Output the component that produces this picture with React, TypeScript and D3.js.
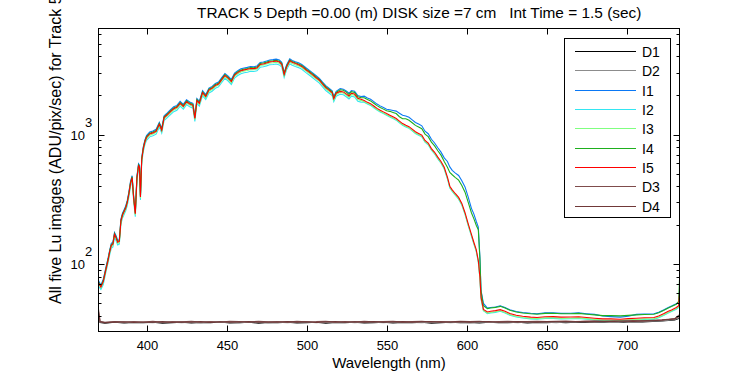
import React, { useEffect, useRef } from "react";
import * as d3 from "d3";

// wavelength grid (nm) for the five illuminated images
const wavelength = [
  370, 371.5, 373, 374.5, 376, 377, 378, 379, 380, 381,
  382, 383, 384, 385, 386, 387, 388, 389, 390, 391,
  392, 393, 394, 395, 395.6, 396.2, 397, 398, 399, 400,
  402, 404, 406, 408, 409.5, 411, 413, 415, 417, 419,
  421, 423, 425, 427, 429, 430.2, 431.5, 433, 435, 437,
  439, 441, 443, 445, 447, 449, 451, 453, 455, 457,
  459, 461, 463, 465, 467, 469, 471, 473, 475, 477,
  479, 481, 483, 484.5, 486, 487.5, 489.5, 491, 493, 495,
  497, 500, 502, 504, 506, 508, 510, 512, 514, 516,
  517, 518.5, 521, 523, 525, 526.5, 528, 530, 532, 534,
  536, 538, 540, 542, 544, 546, 548, 550, 552, 554,
  556, 558, 560, 562, 564, 566, 568, 570, 572, 574,
  576, 578, 580, 582, 584, 586, 588, 589.5, 591, 593,
  595, 597, 599, 601, 603, 604.5, 606, 607.3, 608.3, 609,
  610.5, 613, 615, 618, 621, 624, 627, 631, 635, 640,
  644, 649, 654, 659, 665, 670, 675, 680, 685, 690,
  696, 701, 706, 711, 717, 720, 723, 726, 728, 731,
  732.5, 733,
];

const lumI1 = [
  75, 69, 77, 93, 112, 129, 145, 148, 176, 166,
  153, 155, 223, 248, 264, 282, 311, 362, 435, 482,
  331, 254, 476, 595, 580, 342, 662, 807, 911, 983,
  1045, 1066, 1097, 1242, 1118, 1397, 1470, 1553, 1635, 1677,
  1801, 1708, 1853, 1780, 1739, 1377, 1894, 1801, 2174, 2029,
  2277, 2349, 2474, 2536, 2743, 2950, 2815, 2650, 2970, 3105,
  3209, 3260, 3291, 3343, 3333, 3374, 3591, 3623, 3685, 3757,
  3778, 3809, 3747, 3602, 3002, 3436, 3830, 3726, 3643, 3571,
  3467, 3240, 3105, 2970, 2836, 2712, 2536, 2381, 2277, 2174,
  1956, 2153, 2258, 2237, 2153, 2079, 2184, 2153, 1995, 1964,
  1976, 1912, 1868, 1793, 1717, 1663, 1615, 1566, 1551, 1534,
  1516, 1461, 1409, 1392, 1357, 1298, 1239, 1204, 1168, 1062,
  1015, 920, 861, 791, 732, 661, 620, 563, 530, 505,
  484, 440, 395, 330, 270, 245, 215, 194, 114, 63,
  50, 46, 46.5, 47, 48, 46.5, 44.7, 43.3, 42.6, 42,
  41.7, 42.3, 42.4, 41.9, 42, 42.3, 41.7, 41.2, 40, 39.6,
  39.2, 39.8, 41.2, 41.5, 41.7, 42.8, 44.5, 46.5, 47.7, 49.8,
  51, 62,
];

const lumI2 = [
  68, 64, 70, 86, 103, 119, 133, 136, 162, 152,
  141, 143, 204, 228, 242, 258, 285, 333, 399, 443,
  304, 233, 437, 546, 532, 314, 608, 741, 836, 903,
  960, 979, 1007, 1140, 1026, 1283, 1349, 1425, 1501, 1539,
  1653, 1568, 1701, 1634, 1596, 1264, 1739, 1653, 1995, 1862,
  2090, 2157, 2271, 2328, 2518, 2708, 2584, 2432, 2727, 2850,
  2945, 2993, 3021, 3069, 3059, 3097, 3297, 3325, 3382, 3449,
  3468, 3496, 3439, 3306, 2755, 3154, 3515, 3420, 3344, 3278,
  3183, 2974, 2850, 2727, 2603, 2489, 2328, 2185, 2090, 1995,
  1796, 1976, 2043, 2024, 1948, 1881, 1976, 1948, 1805, 1777,
  1775, 1717, 1678, 1610, 1542, 1494, 1450, 1407, 1368, 1329,
  1290, 1232, 1179, 1145, 1116, 1067, 1019, 989, 960, 873,
  834, 757, 708, 650, 601, 543, 456, 388, 364, 340,
  318, 286, 243, 199, 165, 144, 126, 104, 78, 54,
  44, 41.7, 42.2, 42.7, 43.5, 42.2, 40.5, 39.3, 38.6, 38,
  37.8, 38.3, 38.4, 38, 38.1, 38.3, 37.8, 37.3, 36.9, 36.9,
  36.7, 37.1, 37.3, 37.6, 37.8, 38.8, 40.4, 42.2, 43.3, 45.1,
  46.6, 55,
];

const lumI3 = [
  71, 66, 73, 88, 106, 123, 137, 140, 167, 157,
  145, 147, 211, 235, 250, 267, 294, 343, 412, 457,
  314, 240, 451, 564, 549, 323, 627, 764, 862, 931,
  990, 1009, 1039, 1176, 1058, 1323, 1392, 1470, 1548, 1588,
  1705, 1617, 1754, 1686, 1646, 1303, 1793, 1705, 2058, 1921,
  2156, 2225, 2342, 2401, 2597, 2793, 2666, 2509, 2813, 2940,
  3038, 3087, 3116, 3165, 3156, 3195, 3401, 3430, 3489, 3557,
  3577, 3606, 3548, 3410, 2842, 3254, 3626, 3528, 3450, 3381,
  3283, 3067, 2940, 2813, 2685, 2568, 2401, 2254, 2156, 2058,
  1852, 2038, 2107, 2087, 2009, 1940, 2038, 2009, 1862, 1833,
  1793, 1735, 1695, 1627, 1558, 1509, 1465, 1421, 1382, 1343,
  1303, 1245, 1191, 1156, 1127, 1078, 1029, 1000, 970, 882,
  843, 764, 715, 657, 608, 549, 461, 392, 368, 343,
  321, 289, 245, 201, 167, 145, 127, 105, 78, 55,
  44.1, 42.1, 42.6, 43.1, 43.9, 42.6, 41, 39.7, 39, 38.4,
  38.2, 38.7, 38.8, 38.4, 38.5, 38.7, 38.2, 37.7, 37.2, 37.2,
  37, 37.4, 37.7, 38, 38.2, 39.2, 40.8, 42.6, 43.7, 45.6,
  47, 58,
];

const lumI4 = [
  73, 68, 75, 91, 110, 127, 142, 145, 173, 162,
  150, 152, 218, 244, 259, 276, 305, 355, 426, 473,
  325, 249, 467, 584, 568, 335, 650, 792, 893, 964,
  1025, 1045, 1076, 1218, 1096, 1370, 1441, 1523, 1604, 1644,
  1766, 1675, 1817, 1746, 1705, 1350, 1857, 1766, 2132, 1989,
  2233, 2304, 2426, 2487, 2690, 2893, 2761, 2598, 2913, 3045,
  3147, 3197, 3228, 3278, 3268, 3309, 3522, 3553, 3613, 3684,
  3705, 3735, 3674, 3532, 2944, 3370, 3756, 3654, 3573, 3502,
  3400, 3177, 3045, 2913, 2781, 2659, 2487, 2335, 2233, 2132,
  1918, 2111, 2215, 2194, 2112, 2039, 2142, 2112, 1957, 1926,
  1922, 1859, 1817, 1743, 1670, 1617, 1570, 1523, 1509, 1480,
  1450, 1372, 1324, 1322, 1288, 1232, 1176, 1142, 1109, 1008,
  963, 874, 818, 750, 694, 620, 560, 510, 490, 466,
  445, 405, 360, 300, 250, 225, 200, 185, 110, 62,
  48, 45.6, 46.1, 46.6, 47.5, 46.1, 44.3, 42.9, 42.2, 41.6,
  41.3, 41.9, 42, 41.6, 41.7, 41.9, 41.3, 40.8, 40.3, 40.3,
  40.1, 40.5, 40.8, 41.1, 41.3, 42.4, 44.1, 46.1, 47.3, 49.3,
  52, 76,
];

const lumI5 = [
  72, 67, 74, 90, 108, 125, 140, 143, 170, 160,
  148, 150, 215, 240, 255, 272, 300, 350, 420, 466,
  320, 245, 460, 575, 560, 330, 640, 780, 880, 950,
  1010, 1030, 1060, 1200, 1080, 1350, 1420, 1500, 1580, 1620,
  1740, 1650, 1790, 1720, 1680, 1330, 1830, 1740, 2100, 1960,
  2200, 2270, 2390, 2450, 2650, 2850, 2720, 2560, 2870, 3000,
  3100, 3150, 3180, 3230, 3220, 3260, 3470, 3500, 3560, 3630,
  3650, 3680, 3620, 3480, 2900, 3320, 3700, 3600, 3520, 3450,
  3350, 3130, 3000, 2870, 2740, 2620, 2450, 2300, 2200, 2100,
  1890, 2080, 2150, 2130, 2050, 1980, 2080, 2050, 1900, 1870,
  1830, 1770, 1730, 1660, 1590, 1540, 1495, 1450, 1410, 1370,
  1330, 1270, 1215, 1180, 1150, 1100, 1050, 1020, 990, 900,
  860, 780, 730, 670, 620, 560, 470, 400, 375, 350,
  328, 295, 250, 205, 170, 148, 130, 107, 80, 56,
  45, 43, 43.5, 44, 44.8, 43.5, 41.8, 40.5, 39.8, 39.2,
  39, 39.5, 39.6, 39.2, 39.3, 39.5, 39, 38.5, 38, 38,
  37.8, 38.2, 38.5, 38.8, 39, 40, 41.6, 43.5, 44.6, 46.5,
  48, 60,
];

// wavelength grid (nm) for the four dark images
const darkWavelength = [
  370, 371, 374, 380, 386, 392, 398, 404, 410, 416,
  422, 428, 434, 440, 446, 452, 458, 464, 470, 476,
  482, 488, 494, 500, 506, 512, 518, 524, 530, 536,
  542, 548, 554, 560, 566, 572, 578, 584, 590, 596,
  602, 608, 614, 620, 626, 632, 638, 644, 650, 656,
  662, 668, 674, 680, 686, 692, 698, 704, 710, 716,
  722, 726, 730, 733,
];

const darkD1 = [
  37.5, 35.6, 35.3, 35.8, 35.4, 35.7, 35.5, 35.9, 35.3, 35.6,
  35.8, 35.4, 35.7, 35.5, 36.0, 35.4, 35.6, 35.8, 35.3, 35.7,
  35.5, 35.9, 35.4, 35.6, 35.8, 35.3, 35.7, 35.5, 35.9, 35.4,
  35.6, 35.8, 35.4, 35.7, 35.5, 35.9, 35.3, 35.6, 35.8, 35.5,
  35.7, 35.4, 35.8, 35.5, 35.6, 35.9, 35.4, 35.7, 35.5, 35.8,
  35.6, 35.9, 35.7, 36.0, 35.8, 36.1, 35.9, 36.2, 36.0, 36.3,
  36.6, 36.9, 37.3, 38.5,
];

const darkD2 = [
  38, 35.9, 35.5, 36.0, 35.6, 35.9, 35.7, 35.5, 36.0, 35.8,
  35.5, 35.9, 35.6, 36.1, 35.7, 35.9, 35.5, 35.8, 36.0, 35.6,
  35.9, 35.6, 35.8, 36.0, 35.5, 35.9, 35.7, 36.0, 35.6, 35.8,
  35.9, 35.5, 35.8, 36.0, 35.7, 35.6, 35.9, 35.8, 35.5, 35.9,
  35.6, 36.0, 35.7, 35.9, 35.8, 35.5, 36.0, 35.8, 35.9, 35.6,
  36.0, 35.8, 36.1, 35.9, 36.2, 36.0, 36.3, 36.1, 36.4, 36.5,
  36.8, 37.2, 37.6, 39,
];

const darkD3 = [
  45, 36.4, 35.8, 36.2, 35.9, 36.3, 36.0, 36.4, 35.8, 36.2,
  36.1, 36.5, 35.9, 36.3, 36.0, 36.4, 36.2, 35.9, 36.5, 36.1,
  36.3, 35.9, 36.4, 36.1, 36.2, 36.5, 35.9, 36.3, 36.0, 36.4,
  36.1, 36.3, 36.5, 35.9, 36.2, 36.4, 36.0, 36.3, 36.1, 36.4,
  36.2, 36.5, 36.0, 36.3, 36.4, 36.1, 36.3, 36.5, 36.2, 36.4,
  36.6, 36.3, 36.5, 36.7, 36.4, 36.8, 36.6, 36.9, 36.7, 37.0,
  37.4, 37.8, 38.2, 41,
];

const darkD4 = [
  43, 36.0, 35.6, 35.9, 36.1, 35.7, 36.0, 35.8, 36.2, 35.7,
  36.0, 35.8, 36.2, 35.7, 36.1, 35.8, 36.0, 36.3, 35.8, 36.0,
  35.8, 36.2, 35.9, 36.1, 35.7, 36.0, 36.2, 35.8, 36.1, 35.9,
  36.2, 35.8, 36.0, 36.2, 35.9, 36.1, 36.3, 35.9, 36.0, 36.2,
  35.9, 36.1, 36.3, 35.8, 36.0, 36.2, 36.0, 35.9, 36.2, 36.1,
  36.3, 36.1, 36.4, 36.2, 36.5, 36.3, 36.6, 36.4, 36.7, 36.8,
  37.2, 37.6, 38.0, 40,
];

// plot order = legend order
const seriesNames = ["D1", "D2", "I1", "I2", "I3", "I4", "I5", "D3", "D4"];
const seriesColors = ["#000000", "#8c8c8c", "#0a78f5", "#33e6f2", "#80ff80", "#1eaf1e", "#ff0000", "#7f4c4c", "#703838"];

const xTickValues = [400, 450, 500, 550, 600, 650, 700];

const App = () => {
  const svgRef = useRef<SVGSVGElement>(null);

  useEffect(() => {
    const width = 750;
    const height = 375;
    const left = 98.5;
    const right = 679.5;
    const top = 28.5;
    const bottom = 331.5;
    const font = "'Liberation Sans', Arial, sans-serif";

    const svg = d3.select(svgRef.current);
    svg.selectAll("*").remove();
    svg.attr("width", width).attr("height", height);
    svg.append("rect").attr("width", width).attr("height", height).attr("fill", "#fff");

    const xScale = d3.scaleLinear().domain([370, 733]).range([left, right]);
    const yScale = d3.scaleLog().domain([30.4, 6560]).range([bottom, top]);

    svg
      .append("clipPath")
      .attr("id", "plot-clip")
      .append("rect")
      .attr("x", left)
      .attr("y", top)
      .attr("width", right - left)
      .attr("height", bottom - top);

    const allSeries = [
      { wl: darkWavelength, v: darkD1 },
      { wl: darkWavelength, v: darkD2 },
      { wl: wavelength, v: lumI1 },
      { wl: wavelength, v: lumI2 },
      { wl: wavelength, v: lumI3 },
      { wl: wavelength, v: lumI4 },
      { wl: wavelength, v: lumI5 },
      { wl: darkWavelength, v: darkD3 },
      { wl: darkWavelength, v: darkD4 },
    ];

    const line = d3
      .line<[number, number]>()
      .x((d) => xScale(d[0]))
      .y((d) => yScale(d[1]));

    const lines = svg.append("g").attr("clip-path", "url(#plot-clip)");
    allSeries.forEach((s, i) => {
      const pts = s.wl.map((w, k) => [w, s.v[k]] as [number, number]);
      lines
        .append("path")
        .attr("d", line(pts))
        .attr("fill", "none")
        .attr("stroke", seriesColors[i])
        .attr("stroke-width", 1.1);
    });

    // frame
    svg
      .append("rect")
      .attr("x", left)
      .attr("y", top)
      .attr("width", right - left)
      .attr("height", bottom - top)
      .attr("fill", "none")
      .attr("stroke", "#000");

    // x ticks (inward, top and bottom)
    const axes = svg.append("g").attr("stroke", "#000");
    xTickValues.forEach((t) => {
      const x = Math.round(xScale(t)) + 0.5;
      axes.append("line").attr("x1", x).attr("x2", x).attr("y1", bottom).attr("y2", bottom - 6);
      axes.append("line").attr("x1", x).attr("x2", x).attr("y1", top).attr("y2", top + 6);
      svg
        .append("text")
        .attr("x", x)
        .attr("y", 350)
        .attr("text-anchor", "middle")
        .style("font-family", font)
        .style("font-size", "13px")
        .text(t);
    });

    // y ticks on a log scale (major at decades)
    yScale.ticks().forEach((t) => {
      const y = Math.round(yScale(t)) + 0.5;
      const major = Math.abs(Math.log10(t) - Math.round(Math.log10(t))) < 1e-9;
      const len = major ? 6 : 3;
      axes.append("line").attr("x1", left).attr("x2", left + len).attr("y1", y).attr("y2", y);
      axes.append("line").attr("x1", right).attr("x2", right - len).attr("y1", y).attr("y2", y);
      if (major) {
        svg
          .append("text")
          .attr("x", 85)
          .attr("y", y + 4)
          .attr("text-anchor", "end")
          .style("font-family", font)
          .style("font-size", "13px")
          .text("10");
        svg
          .append("text")
          .attr("x", 85)
          .attr("y", y - 8.5)
          .attr("text-anchor", "start")
          .style("font-family", font)
          .style("font-size", "13px")
          .text(Math.round(Math.log10(t)));
      }
    });

    // title and axis labels
    svg
      .append("text")
      .attr("x", 197)
      .attr("y", 18)
      .style("font-family", font)
      .style("font-size", "15.4px")
      .style("white-space", "pre")
      .text("TRACK 5 Depth =0.00 (m) DISK size =7 cm   Int Time = 1.5 (sec)");

    svg
      .append("text")
      .attr("x", (left + right) / 2)
      .attr("y", 368)
      .attr("text-anchor", "middle")
      .style("font-family", font)
      .style("font-size", "15px")
      .text("Wavelength (nm)");

    svg
      .append("text")
      .attr("transform", "translate(61,304) rotate(-90)")
      .attr("text-anchor", "start")
      .style("font-family", font)
      .style("font-size", "16px")
      .text("All five Lu images (ADU/pix/sec) for Track 5");

    // legend
    const legend = svg.append("g");
    legend
      .append("rect")
      .attr("x", 564.5)
      .attr("y", 38.5)
      .attr("width", 106)
      .attr("height", 179)
      .attr("fill", "#fff")
      .attr("stroke", "#000");
    seriesNames.forEach((name, i) => {
      const y = Math.round(51 + i * 19.35) + 0.5;
      legend
        .append("line")
        .attr("x1", 575)
        .attr("x2", 636)
        .attr("y1", y)
        .attr("y2", y)
        .attr("stroke", seriesColors[i])
        .attr("stroke-width", 1.1);
      legend
        .append("text")
        .attr("x", 642)
        .attr("y", y + 5)
        .style("font-family", font)
        .style("font-size", "14px")
        .text(name);
    });
  }, []);

  return <svg ref={svgRef} style={{ position: "absolute", left: 0, top: 0 }}></svg>;
};

export default App;
